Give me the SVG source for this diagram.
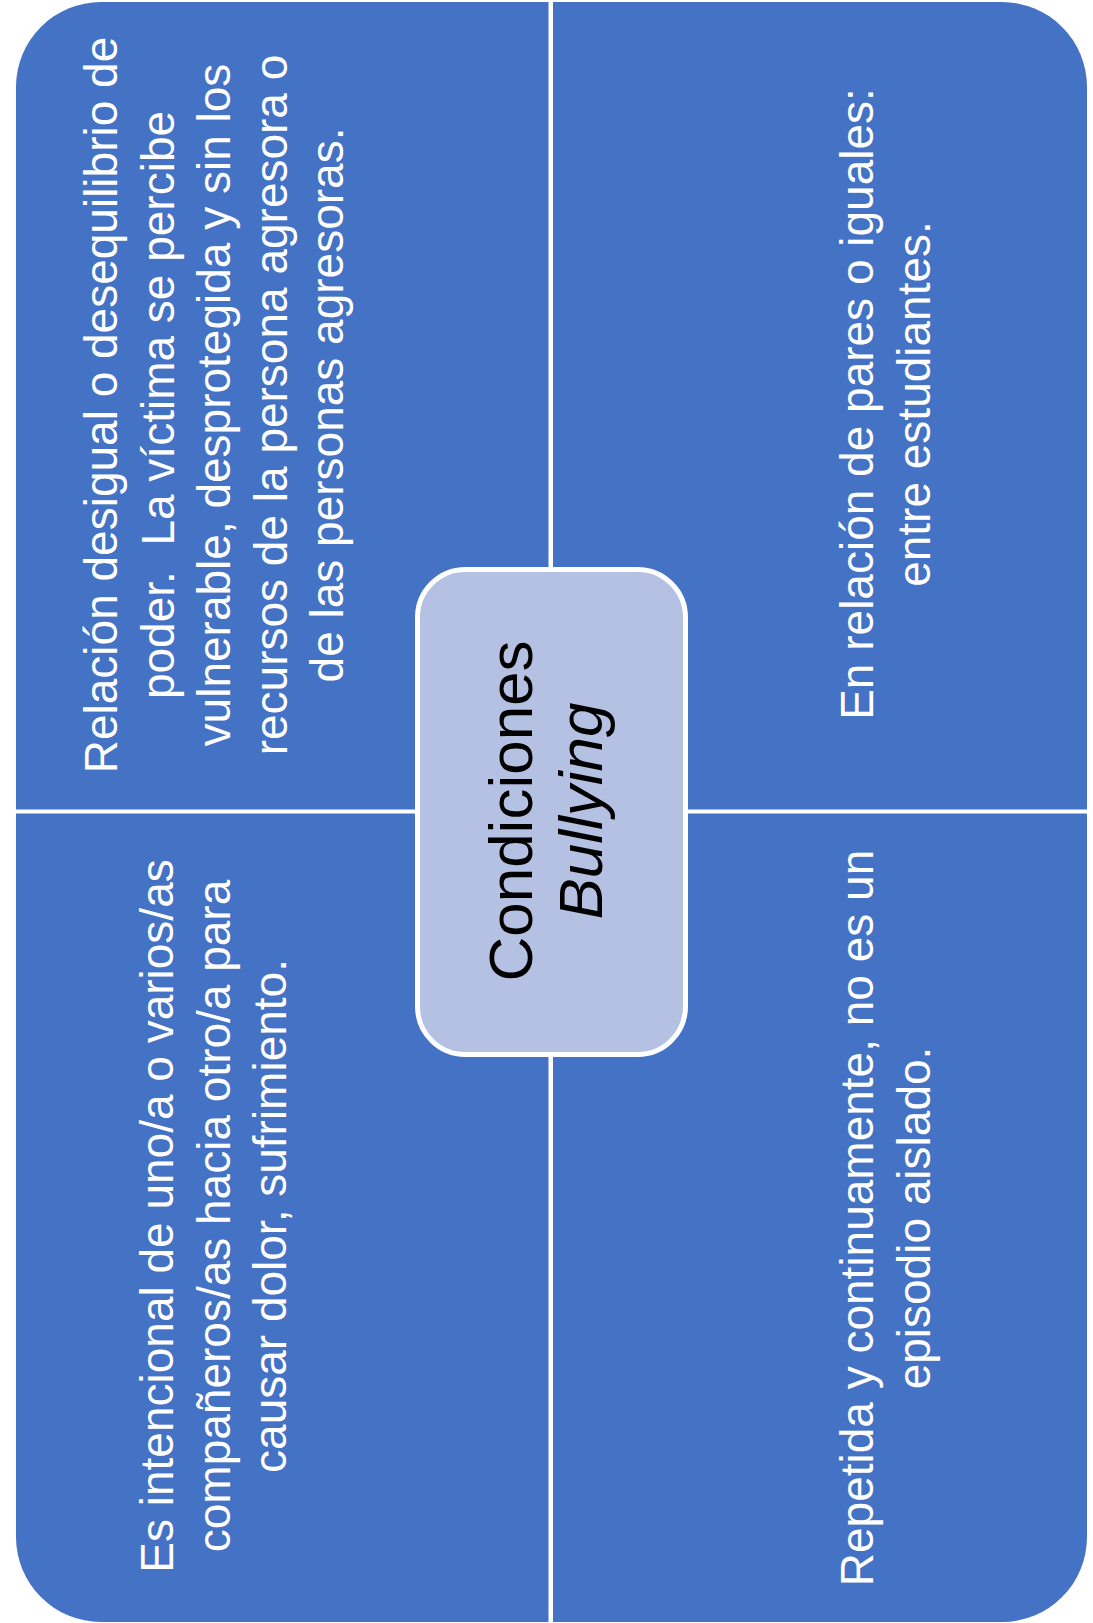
<svg xmlns="http://www.w3.org/2000/svg" width="1093" height="1623" viewBox="0 0 1093 1623">
<style>
.q{fill:#4472C4;}
.qt{font-family:"Liberation Sans",Arial,sans-serif;font-size:46px;fill:#FFFFFF;text-anchor:middle;}
.ct{font-family:"Liberation Sans",Arial,sans-serif;font-size:62px;fill:#000000;text-anchor:middle;}
</style>
<rect x="0" y="0" width="1093" height="1623" fill="#FFFFFF"/>
<g id="quadrant-top-left">
<path class="q" d="M16,87 A85,85 0 0 1 101,2 L548.5,2 L548.5,809.5 L16,809.5 Z"/>
<text class="qt" transform="translate(117,405) rotate(-90)" xml:space="preserve"><tspan x="0" y="0">Relación desigual o desequilibrio de</tspan><tspan x="0" dy="56.5">poder.  La víctima se percibe</tspan><tspan x="0" dy="56.5">vulnerable, desprotegida y sin los</tspan><tspan x="0" dy="56.5">recursos de la persona agresora o</tspan><tspan x="0" dy="56.5">de las personas agresoras.</tspan></text>
</g>
<g id="quadrant-top-right">
<path class="q" d="M553,2 L1002,2 A85,85 0 0 1 1087,87 L1087,809.5 L553,809.5 Z"/>
<text class="qt" transform="translate(873,404) rotate(-90)"><tspan x="0" y="0">En relación de pares o iguales:</tspan><tspan x="0" dy="56.5">entre estudiantes.</tspan></text>
</g>
<g id="quadrant-bottom-left">
<path class="q" d="M16,813.5 L548.5,813.5 L548.5,1622 L101,1622 A85,85 0 0 1 16,1537 Z"/>
<text class="qt" transform="translate(173,1216) rotate(-90)"><tspan x="0" y="0">Es intencional de uno/a o varios/as</tspan><tspan x="0" dy="56.5">compañeros/as hacia otro/a para</tspan><tspan x="0" dy="56.5">causar dolor, sufrimiento.</tspan></text>
</g>
<g id="quadrant-bottom-right">
<path class="q" d="M553,813.5 L1087,813.5 L1087,1537 A85,85 0 0 1 1002,1622 L553,1622 Z"/>
<text class="qt" transform="translate(873,1218) rotate(-90)"><tspan x="0" y="0">Repetida y continuamente, no es un</tspan><tspan x="0" dy="56.5">episodio aislado.</tspan></text>
</g>
<g id="center-node">
<rect x="417.5" y="569.5" width="268" height="485" rx="48" ry="48" fill="#B4C1E3" stroke="#FFFFFF" stroke-width="5"/>
<text class="ct" transform="translate(532,811) rotate(-90)"><tspan x="0" y="0">Condiciones</tspan><tspan x="0" dy="70" font-style="italic">Bullying</tspan></text>
</g>
</svg>
